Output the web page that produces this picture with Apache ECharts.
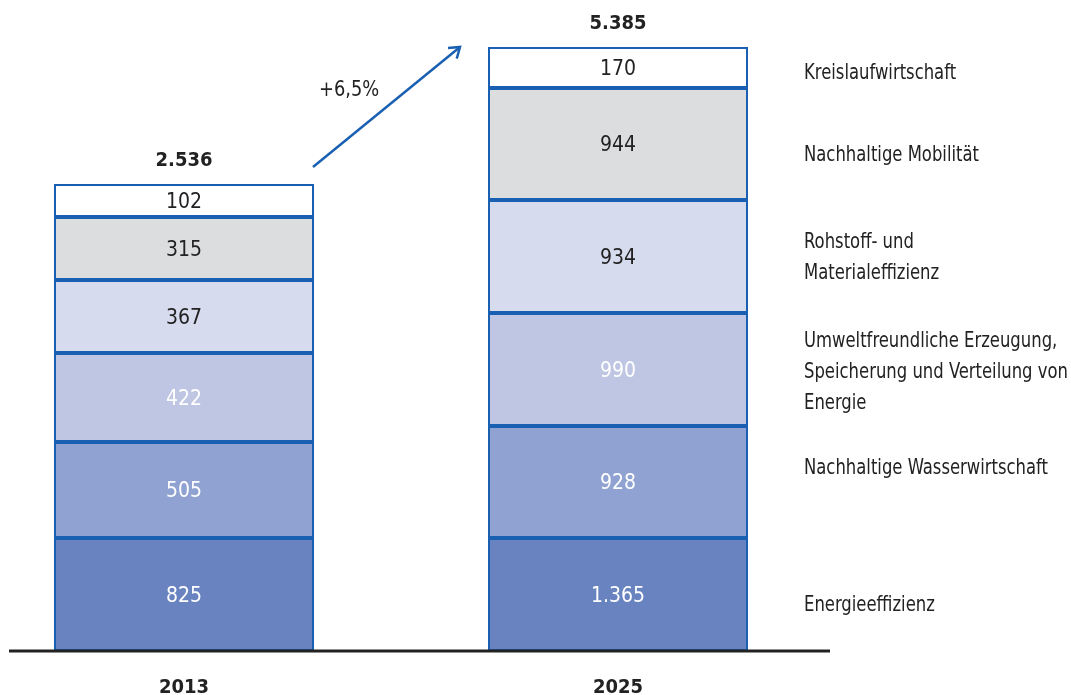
<!DOCTYPE html>
<html>
<head>
<meta charset="utf-8">
<title>Marktvolumen Umwelttechnik</title>
<script src="https://cdn.jsdelivr.net/npm/echarts@6/dist/echarts.min.js"></script>
<style>
  html, body { margin: 0; padding: 0; background: #fff; }
  #chart { width: 1071px; height: 695px; }
</style>
</head>
<body>
<div id="chart"></div>
<script>
// Kategorien und Werte (Mrd. EUR)
const categories = ['2013', '2025']
const segmentNames = [
  'Energieeffizienz',
  'Nachhaltige Wasserwirtschaft',
  'Umweltfreundliche Erzeugung,\nSpeicherung und Verteilung von\nEnergie',
  'Rohstoff- und\nMaterialeffizienz',
  'Nachhaltige Mobilität',
  'Kreislaufwirtschaft'
]
const values2013 = [825, 505, 422, 367, 315, 102]
const values2025 = [1365, 928, 990, 934, 944, 170]
const totals = [2536, 5385]
const growthLabel = '+6,5%'

// the bars in the source are not drawn to scale: segment heights as drawn
const heights2013 = [113, 96, 89, 73, 63, 33]
const heights2025 = [113, 112, 113, 113, 112, 41]

const FONT = "'DejaVu Sans Condensed', 'Liberation Sans Narrow', sans-serif"
const colors = ['#6983c1', '#8fa2d2', '#bfc6e3', '#d6dbee', '#dcdddf', '#ffffff']
const labelColors = ['#ffffff', '#ffffff', '#ffffff', '#222222', '#222222', '#222222']
const borderColor = '#1a60b2'

function fmt(v) {
  return String(v).replace(/\B(?=(\d{3})+(?!\d))/g, '.')
}

const chart = echarts.init(document.getElementById('chart'))

const series = segmentNames.map((name, i) => ({
  name: name,
  type: 'bar',
  stack: 'total',
  barWidth: 260,
  clip: false,
  data: [heights2013[i], heights2025[i]],
  itemStyle: { color: colors[i], borderColor: borderColor, borderWidth: 2 },
  label: {
    show: true,
    position: 'inside',
    offset: [0, 2],
    color: labelColors[i],
    fontFamily: FONT,
    fontSize: 21,
    formatter: p => fmt([values2013, values2025][p.dataIndex][i])
  }
}))

// Summen oben auf den Säulen
series.push({
  name: 'Summe',
  type: 'bar',
  stack: 'total',
  barWidth: 260,
  clip: false,
  data: [0, 0],
  itemStyle: { color: 'transparent', borderWidth: 0 },
  label: {
    show: true,
    position: 'top',
    distance: 13,
    color: '#222',
    fontFamily: FONT,
    fontSize: 20,
    fontWeight: 'bold',
    formatter: p => fmt(totals[p.dataIndex])
  }
})

chart.setOption({
  animation: false,
  grid: { left: 184, right: 453, top: 0, bottom: 44, outerBoundsMode: 'none', containLabel: false },
  xAxis: {
    type: 'category',
    data: categories,
    boundaryGap: false,
    axisLine: { show: false },
    axisTick: { show: false },
    axisLabel: {
      margin: 27,
      color: '#222',
      fontFamily: FONT,
      fontSize: 20,
      fontWeight: 'bold'
    }
  },
  yAxis: { type: 'value', min: 0, max: 651, show: false },
  series: series
})

const graphics = []

// Grundlinie
const base = chart.convertToPixel({ gridIndex: 0 }, ['2013', 0])
graphics.push({
  type: 'line',
  z: 10,
  shape: { x1: 9, y1: base[1], x2: 830, y2: base[1] },
  style: { stroke: '#222', lineWidth: 3 }
})

// Beschriftung rechts neben der 2025-Säule (von unten nach oben)
const labelNudge = [11, -13, 3, 2, 12, 6]
let acc = 0
heights2025.forEach((h, i) => {
  const mid = chart.convertToPixel({ gridIndex: 0 }, ['2025', acc + h / 2])
  acc += h
  graphics.push({
    type: 'text',
    x: 804,
    y: mid[1] + labelNudge[i],
    scaleX: 0.87,
    style: {
      text: segmentNames[i],
      fill: '#222',
      font: '21px ' + FONT,
      lineHeight: 31,
      verticalAlign: 'middle',
      align: 'left'
    }
  })
})

// Pfeil zwischen den Säulen
const a0 = [313, 167]
const a1 = [460, 47]
const ang = Math.atan2(a1[1] - a0[1], a1[0] - a0[0])
const head = 12
const spread = 35 * Math.PI / 180
graphics.push({
  type: 'line',
  shape: { x1: a0[0], y1: a0[1], x2: a1[0], y2: a1[1] },
  style: { stroke: borderColor, lineWidth: 2.5 }
})
graphics.push({
  type: 'polyline',
  shape: {
    points: [
      [a1[0] - head * Math.cos(ang - spread), a1[1] - head * Math.sin(ang - spread)],
      a1,
      [a1[0] - head * Math.cos(ang + spread), a1[1] - head * Math.sin(ang + spread)]
    ]
  },
  style: { stroke: borderColor, lineWidth: 2.5, fill: null }
})
graphics.push({
  type: 'text',
  x: 319,
  y: 90,
  scaleX: 0.9,
  style: {
    text: growthLabel,
    fill: '#222',
    font: '22px ' + FONT,
    verticalAlign: 'middle',
    align: 'left'
  }
})

chart.setOption({ graphic: graphics })
</script>
</body>
</html>
